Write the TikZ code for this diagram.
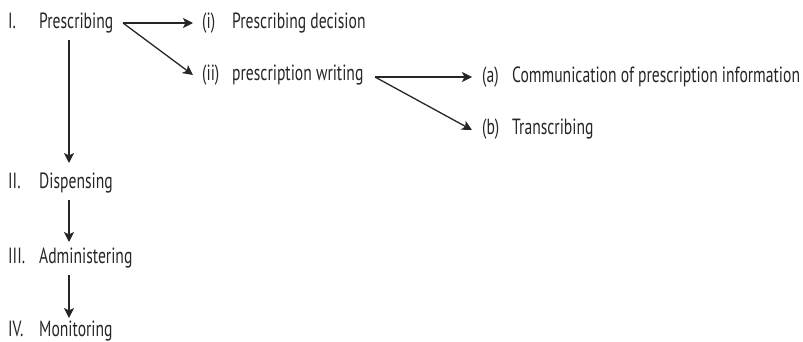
\documentclass[tikz,border=0pt]{standalone}
\usepackage{fontspec}
\setmainfont[FakeStretch=0.71]{PT Sans}
\usetikzlibrary{arrows.meta}
\tikzset{
  lbl/.style={anchor=base west, inner sep=0pt, font=\fontsize{22}{22}\selectfont, text=black!85},
  arr/.style={-{Stealth[length=10pt,width=10pt,inset=2.5pt]}, line width=1.3pt, black!85}
}
\begin{document}
\begin{tikzpicture}[x=1pt,y=-1pt]
\useasboundingbox (0,0) rectangle (803,342);
% stage I and its two sub-steps
\node[lbl] (n1) at (8,29) {I.};
\node[lbl] (p1) at (39,29) {Prescribing};
\node[lbl] (ri) at (202,29) {(i)};
\node[lbl] (pd) at (232,29) {Prescribing decision};
\node[lbl] (rii) at (202,81) {(ii)};
\node[lbl] (pw) at (232,81) {prescription writing};
\node[lbl] (ra) at (482,83) {(a)};
\node[lbl] (ci) at (512,83) {Communication of prescription information};
\node[lbl] (rb) at (482,135) {(b)};
\node[lbl] (tr) at (512,135) {Transcribing};
% remaining stages
\node[lbl] (n2) at (8,188) {II.};
\node[lbl] (d) at (39,188) {Dispensing};
\node[lbl] (n3) at (8,263) {III.};
\node[lbl] (a) at (39,263) {Administering};
\node[lbl] (n4) at (8,336) {IV.};
\node[lbl] (m) at (39,336) {Monitoring};
% branching arrows
\draw[arr] ([shift={(84,-6)}]p1.base west) -- ([shift={(-9,-6)}]ri.base west);
\draw[arr] ([shift={(84,-6)}]p1.base west) -- ([shift={(-9,-6)}]rii.base west);
\draw[arr] ([shift={(143,-4)}]pw.base west) -- ([shift={(-10,-6)}]ra.base west);
\draw[arr] ([shift={(143,-4)}]pw.base west) -- ([shift={(-10,-5)}]rb.base west);
% stage sequence
\draw[arr] ([shift={(30,11)}]p1.base west) -- ([shift={(30,-25)}]d.base west);
\draw[arr] ([shift={(30,12)}]d.base west) -- ([shift={(30,-21)}]a.base west);
\draw[arr] ([shift={(30,12)}]a.base west) -- ([shift={(30,-18)}]m.base west);
\end{tikzpicture}
\end{document}
